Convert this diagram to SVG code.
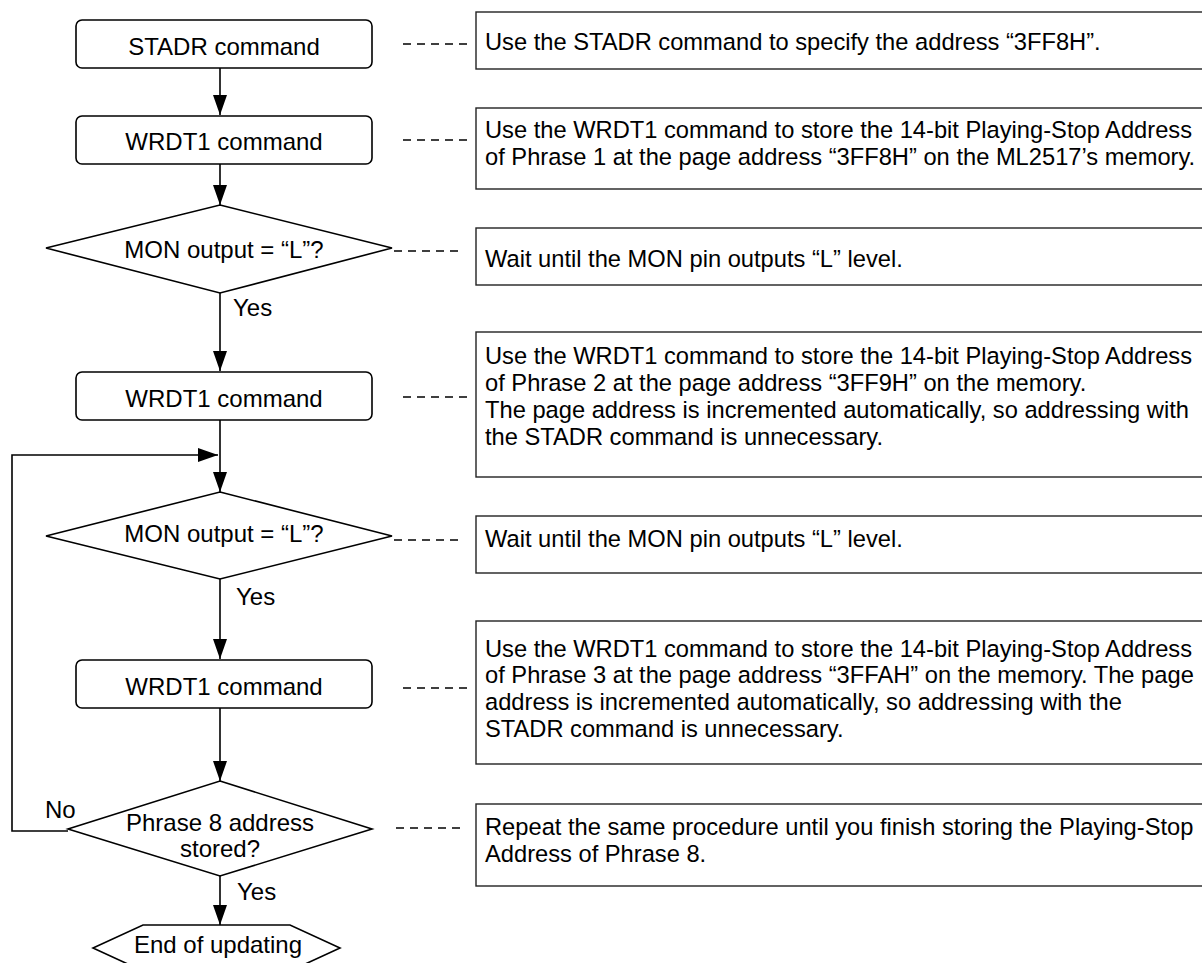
<svg xmlns="http://www.w3.org/2000/svg" width="1202" height="963" viewBox="0 0 1202 963">
<defs>
<style>
text{font-family:"Liberation Sans",Arial,sans-serif;font-size:24px;fill:#000}
.c{text-anchor:middle}
.n{font-size:23.7px}
.shape{fill:#fff;stroke:#000;stroke-width:1.6}
.note{fill:#fff;stroke:#222;stroke-width:1.4}
.line{fill:none;stroke:#000;stroke-width:1.6}
.dash{fill:none;stroke:#000;stroke-width:1.3;stroke-dasharray:8 6}
</style>
<marker id="ah" viewBox="0 0 20 14" refX="20" refY="7" markerWidth="20" markerHeight="14" markerUnits="userSpaceOnUse" orient="auto">
<path d="M0,0 L20,7 L0,14 Z" fill="#000"/>
</marker>
</defs>
<rect width="1202" height="963" fill="#fff"/>

<g id="connectors">
<line class="line" x1="220" y1="68" x2="220" y2="115" marker-end="url(#ah)"/>
<line class="line" x1="220" y1="164" x2="220" y2="205" marker-end="url(#ah)"/>
<line class="line" x1="220" y1="293" x2="220" y2="371" marker-end="url(#ah)"/>
<line class="line" x1="220" y1="420" x2="220" y2="492" marker-end="url(#ah)"/>
<line class="line" x1="220" y1="579" x2="220" y2="659" marker-end="url(#ah)"/>
<line class="line" x1="220" y1="708" x2="220" y2="781" marker-end="url(#ah)"/>
<line class="line" x1="220" y1="876" x2="220" y2="925" marker-end="url(#ah)"/>
<polyline class="line" points="68,831 12,831 12,455 218,455" marker-end="url(#ah)"/>
<line class="dash" x1="403" y1="44" x2="467" y2="44"/>
<line class="dash" x1="403" y1="140" x2="467" y2="140"/>
<line class="dash" x1="394" y1="251" x2="458" y2="251"/>
<line class="dash" x1="403" y1="397" x2="467" y2="397"/>
<line class="dash" x1="394" y1="540" x2="458" y2="540"/>
<line class="dash" x1="403" y1="688" x2="467" y2="688"/>
<line class="dash" x1="396" y1="828" x2="460" y2="828"/>
<text x="233" y="316">Yes</text>
<text x="236" y="605">Yes</text>
<text x="237" y="900">Yes</text>
<text x="45" y="818">No</text>
</g>

<g id="n1">
<rect class="shape" x="76" y="20" width="296" height="48" rx="6"/>
<text class="c" x="224" y="55">STADR command</text>
</g>
<g id="n2">
<rect class="shape" x="76" y="116" width="296" height="48" rx="6"/>
<text class="c" x="224" y="150">WRDT1 command</text>
</g>
<g id="n3">
<polygon class="shape" points="220,205 392,248 220,293 46,248"/>
<text class="c" x="224" y="258">MON output = “L”?</text>
</g>
<g id="n4">
<rect class="shape" x="76" y="372" width="296" height="48" rx="6"/>
<text class="c" x="224" y="407">WRDT1 command</text>
</g>
<g id="n5">
<polygon class="shape" points="220,492 392,536 220,579 46,536"/>
<text class="c" x="224" y="542">MON output = “L”?</text>
</g>
<g id="n6">
<rect class="shape" x="76" y="660" width="296" height="48" rx="6"/>
<text class="c" x="224" y="695">WRDT1 command</text>
</g>
<g id="n7">
<polygon class="shape" points="220,781 372,829 220,876 68,829"/>
<text class="c" x="220" y="831">Phrase 8 address</text>
<text class="c" x="220" y="857">stored?</text>
</g>
<g id="n8">
<polygon class="shape" points="143,925 290,925 340,948 290,971 143,971 93,948"/>
<text class="c" x="218" y="953">End of updating</text>
</g>

<g id="note1">
<rect class="note" x="476" y="12" width="740" height="57"/>
<text class="n" x="485" y="50">Use the STADR command to specify the address “3FF8H”.</text>
</g>
<g id="note2">
<rect class="note" x="476" y="108" width="740" height="81"/>
<text class="n" x="485" y="138">Use the WRDT1 command to store the 14-bit Playing-Stop Address</text>
<text class="n" x="485" y="165">of Phrase 1 at the page address “3FF8H” on the ML2517’s memory.</text>
</g>
<g id="note3">
<rect class="note" x="476" y="228" width="740" height="57"/>
<text class="n" x="485" y="267">Wait until the MON pin outputs “L” level.</text>
</g>
<g id="note4">
<rect class="note" x="476" y="332" width="740" height="145"/>
<text class="n" x="485" y="364">Use the WRDT1 command to store the 14-bit Playing-Stop Address</text>
<text class="n" x="485" y="391">of Phrase 2 at the page address “3FF9H” on the memory.</text>
<text class="n" x="485" y="418">The page address is incremented automatically, so addressing with</text>
<text class="n" x="485" y="445">the STADR command is unnecessary.</text>
</g>
<g id="note5">
<rect class="note" x="476" y="516" width="740" height="57"/>
<text class="n" x="485" y="547">Wait until the MON pin outputs “L” level.</text>
</g>
<g id="note6">
<rect class="note" x="476" y="621" width="740" height="143"/>
<text class="n" x="485" y="657">Use the WRDT1 command to store the 14-bit Playing-Stop Address</text>
<text class="n" x="485" y="683">of Phrase 3 at the page address “3FFAH” on the memory. The page</text>
<text class="n" x="485" y="710">address is incremented automatically, so addressing with the</text>
<text class="n" x="485" y="737">STADR command is unnecessary.</text>
</g>
<g id="note7">
<rect class="note" x="476" y="804" width="740" height="82"/>
<text class="n" x="485" y="835">Repeat the same procedure until you finish storing the Playing-Stop</text>
<text class="n" x="485" y="862">Address of Phrase 8.</text>
</g>
</svg>
